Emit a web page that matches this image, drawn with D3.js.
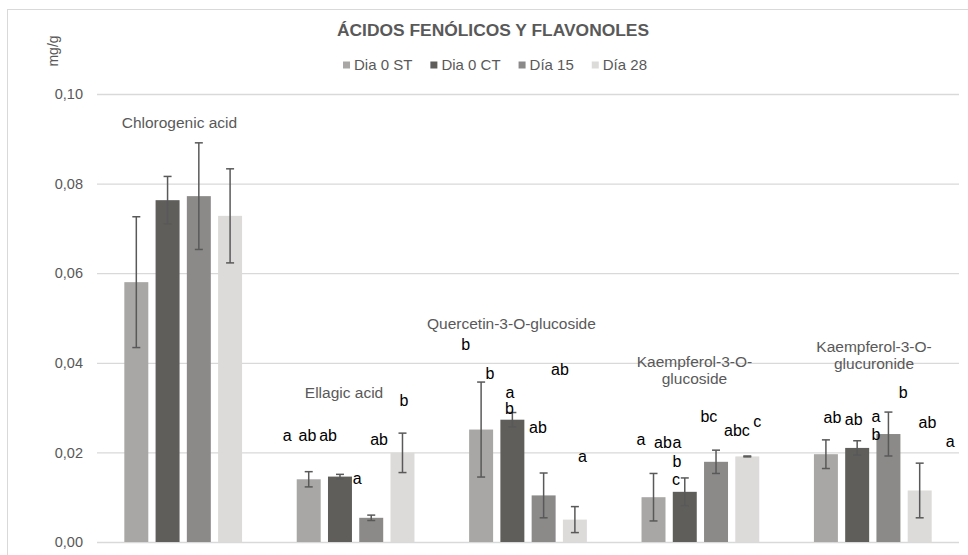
<!DOCTYPE html>
<html>
<head>
<meta charset="utf-8">
<script src="https://cdn.jsdelivr.net/npm/d3@7/dist/d3.min.js"></script>
<style>
  html, body { margin: 0; padding: 0; background: #fff; }
  svg { display: block; font-family: "Liberation Sans", Arial, sans-serif; }
</style>
</head>
<body>
<svg id="chart" width="968" height="555"></svg>
<script>
// Compounds on the x axis
const categories = ["Chlorogenic acid", "Ellagic acid", "Quercetin-3-O-glucoside",
                    "Kaempferol-3-O-glucoside", "Kaempferol-3-O-glucuronide"];
// Compound names as printed (two lines for the long ones)
const categoryLines = [["Chlorogenic acid"], ["Ellagic acid"], ["Quercetin-3-O-glucoside"],
                       ["Kaempferol-3-O-", "glucoside"], ["Kaempferol-3-O-", "glucuronide"]];
const series = ["Dia 0 ST", "Dia 0 CT", "Día 15", "Día 28"];

// Mean content (mg/g) per series, one value per compound
const dia0ST = [0.0580, 0.0140, 0.0251, 0.0100, 0.0196];
const dia0CT = [0.0763, 0.0146, 0.0273, 0.0112, 0.0210];
const dia15  = [0.0772, 0.0054, 0.0104, 0.0179, 0.0241];
const dia28  = [0.0728, 0.0199, 0.0050, 0.0191, 0.0115];

// Standard deviations (error bars)
const sdDia0ST = [0.0146, 0.0017, 0.0106, 0.0053, 0.0032];
const sdDia0CT = [0.0053, 0.0005, 0.0016, 0.0031, 0.0016];
const sdDia15  = [0.0119, 0.0006, 0.0050, 0.0026, 0.0049];
const sdDia28  = [0.0105, 0.0044, 0.0029, 0.0001, 0.0061];

const yTicks = [0, 0.02, 0.04, 0.06, 0.08, 0.10];

// Significance letters: compound index, text, bar slot (0..3, fractional), height in mg/g
const letterCat  = [1,1,1,1,1,1, 2,2,2,2,2,2,2, 3,3,3,3,3,3,3,3, 4,4,4,4,4,4,4];
const letterText = ["a","ab","ab","a","ab","b",
                    "b","b","a","b","ab","ab","a",
                    "a","ab","a","b","c","bc","abc","c",
                    "ab","ab","a","b","b","ab","a"];
const letterSlot = [-0.69,-0.04,0.62,1.55,2.25,3.05,
                    -0.49,0.28,0.92,0.91,1.82,2.52,3.24,
                    -0.40,0.30,0.75,0.75,0.72,1.77,2.67,3.32,
                    0.21,0.89,1.60,1.60,2.47,3.25,3.98];
const letterLevel = [0.0239,0.0239,0.0239,0.0143,0.0228,0.0315,
                     0.0441,0.0377,0.0335,0.0299,0.0255,0.0386,0.0192,
                     0.0228,0.0223,0.0223,0.0179,0.0140,0.0280,0.0250,0.0270,
                     0.0278,0.0274,0.0281,0.0241,0.0333,0.0266,0.0225];

// Compound name anchors: bar slot and height in mg/g
const nameSlot  = [1.38, 1.13, 0.97, 1.31, 1.54];
const nameLevel = [0.0936, 0.0333, 0.0487, 0.0402, 0.0436];

const colors = ["#a8a7a5", "#5f5e5b", "#8b8a89", "#dcdbd9"];
const values = [dia0ST, dia0CT, dia15, dia28];
const sds = [sdDia0ST, sdDia0CT, sdDia15, sdDia28];

const svg = d3.select("#chart");
const margin = { left: 97, right: 9, top: 94, bottom: 13 };
const W = 968, H = 555;
const plotW = W - margin.left - margin.right;
const plotH = H - margin.top - margin.bottom;

// chart frame
svg.append("rect").attr("x", 7.5).attr("y", 9.5).attr("width", 1000).attr("height", 1000)
  .attr("fill", "none").attr("stroke", "#d9d9d9").attr("stroke-width", 1);

const x0 = d3.scaleBand().domain(categories).range([0, plotW])
  .paddingInner(0.317).paddingOuter(0.1585);
const x1 = d3.scaleBand().domain(series).range([0, x0.bandwidth()])
  .paddingInner(0.233).paddingOuter(0);
const y = d3.scaleLinear().domain([0, 0.10]).range([plotH, 0]);

const g = svg.append("g").attr("transform", `translate(${margin.left},${margin.top})`);

// horizontal gridlines + tick labels
const yAxis = d3.axisLeft(y).tickValues(yTicks).tickSize(-plotW).tickPadding(14)
  .tickFormat(d => d3.format(".2f")(d).replace(".", ","));
const ya = g.append("g").call(yAxis);
ya.select(".domain").remove();
ya.selectAll(".tick line").attr("stroke", "#d9d9d9").attr("stroke-width", 1.3);
ya.selectAll(".tick text").attr("fill", "#595959").style("font-size", "14.5px")
  .style("font-family", "'Liberation Sans', Arial, sans-serif");

// slot position helper: slot k = center of k-th bar of the group
const slotX = (ci, s) => x0(categories[ci]) + x1.step() * s + x1.bandwidth() / 2;

// bars
series.forEach((s, si) => {
  g.append("g").selectAll("rect").data(values[si]).join("rect")
    .attr("x", (d, i) => x0(categories[i]) + x1(s))
    .attr("y", d => y(d))
    .attr("width", x1.bandwidth())
    .attr("height", d => y(0) - y(d))
    .attr("fill", colors[si]);
});

// error bars
const capW = 8;
series.forEach((s, si) => {
  const eg = g.append("g").attr("stroke", "#595959").attr("stroke-width", 1.5);
  values[si].forEach((v, i) => {
    const cx = x0(categories[i]) + x1(s) + x1.bandwidth() / 2;
    const hi = y(v + sds[si][i]), lo = y(v - sds[si][i]);
    eg.append("line").attr("x1", cx).attr("x2", cx).attr("y1", hi).attr("y2", lo);
    eg.append("line").attr("x1", cx - capW / 2).attr("x2", cx + capW / 2).attr("y1", hi).attr("y2", hi);
    eg.append("line").attr("x1", cx - capW / 2).attr("x2", cx + capW / 2).attr("y1", lo).attr("y2", lo);
  });
});

// compound names
categoryLines.forEach((lines, ci) => {
  const t = g.append("text")
    .attr("x", slotX(ci, nameSlot[ci]))
    .attr("y", y(nameLevel[ci]))
    .attr("text-anchor", "middle")
    .attr("fill", "#595959")
    .style("font-size", "15.5px");
  lines.forEach((ln, li) => {
    t.append("tspan").attr("x", slotX(ci, nameSlot[ci]))
      .attr("dy", li === 0 ? "0.35em" : "1.1em").text(ln);
  });
});

// significance letters
letterText.forEach((txt, k) => {
  g.append("text")
    .attr("x", slotX(letterCat[k], letterSlot[k]))
    .attr("y", y(letterLevel[k]))
    .attr("dy", "0.35em")
    .attr("text-anchor", "middle")
    .attr("fill", "#000")
    .style("font-size", "16px")
    .text(txt);
});

// title
svg.append("text").attr("x", 493).attr("y", 30).attr("dy", "0.35em")
  .attr("text-anchor", "middle").attr("fill", "#595959")
  .style("font-size", "17.4px").style("font-weight", "bold")
  .text("ÁCIDOS FENÓLICOS Y FLAVONOLES");

// axis unit
svg.append("text").attr("transform", "translate(53,51) rotate(-90)")
  .attr("text-anchor", "middle").attr("dy", "0.35em")
  .attr("fill", "#595959").style("font-size", "14px").text("mg/g");

// legend
const legend = svg.append("g");
const legGap = 18;
let lx = 0;
series.forEach((s, si) => {
  const it = legend.append("g").attr("transform", `translate(${lx},0)`);
  it.append("rect").attr("x", 0).attr("y", -3.5).attr("width", 7).attr("height", 7).attr("fill", colors[si]);
  const tx = it.append("text").attr("x", 11).attr("dy", "0.35em").attr("fill", "#595959")
    .style("font-size", "15px").text(s);
  lx += 11 + tx.node().getComputedTextLength() + legGap;
});
const legW = lx - legGap;
legend.attr("transform", `translate(${495 - legW / 2},65)`);
</script>
</body>
</html>
